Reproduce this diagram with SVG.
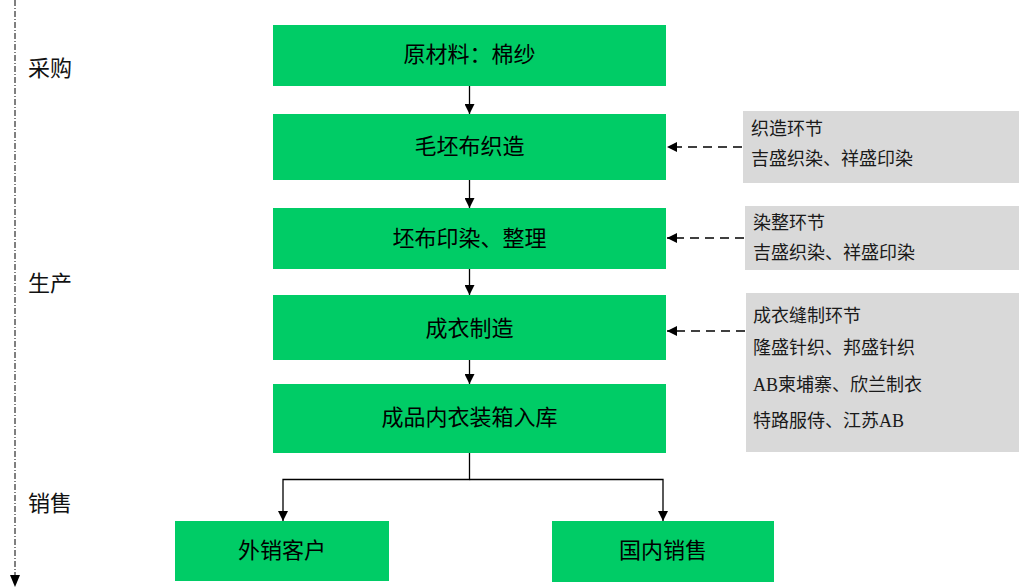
<svg xmlns="http://www.w3.org/2000/svg" width="1019" height="587" viewBox="0 0 1019 587">
  <style>
    .step { fill: #00cc66; }
    .note { fill: #d9d9d9; }
    .t { font-family: "Liberation Serif", "Noto Sans CJK SC", serif; fill: #000; }
    .main { font-size: 22px; text-anchor: middle; dominant-baseline: central; }
    .side { font-size: 18px; fill: #1a1a1a; dominant-baseline: central; }
    .phase { font-size: 22px; fill: #111; dominant-baseline: central; }
    .flow { stroke: #000; stroke-width: 1.3; fill: none; }
    .dash { stroke: #000; stroke-width: 1.4; fill: none; stroke-dasharray: 9 6; }
  </style>
  <defs>
    <marker id="arr" viewBox="0 0 10 10" refX="10" refY="5" markerWidth="10" markerHeight="10" markerUnits="userSpaceOnUse" orient="auto">
      <path d="M0,0 L10,5 L0,10 z" fill="#000"/>
    </marker>
  </defs>

  <!-- phase axis -->
  <g id="axis">
    <line x1="15" y1="0" x2="15" y2="576" stroke="#000" stroke-width="1" stroke-dasharray="6 2 1 2"/>
    <path d="M10,575 L20,575 L15,587 z" fill="#000"/>
    <text class="t phase" x="28" y="68">采购</text>
    <text class="t phase" x="28" y="283">生产</text>
    <text class="t phase" x="28" y="503">销售</text>
  </g>

  <g id="connectors">
    <line class="flow" x1="469.5" y1="86" x2="469.5" y2="114" marker-end="url(#arr)"/>
    <line class="flow" x1="469.5" y1="180" x2="469.5" y2="208" marker-end="url(#arr)"/>
    <line class="flow" x1="469.5" y1="269" x2="469.5" y2="295" marker-end="url(#arr)"/>
    <line class="flow" x1="469.5" y1="360" x2="469.5" y2="384" marker-end="url(#arr)"/>
    <path class="flow" d="M469.5,453 V479.5 H283 V521" marker-end="url(#arr)"/>
    <path class="flow" d="M469.5,479.5 H663 V521" marker-end="url(#arr)"/>
    <line class="dash" x1="742" y1="147" x2="667" y2="147" marker-end="url(#arr)"/>
    <line class="dash" x1="744" y1="238" x2="667" y2="238" marker-end="url(#arr)"/>
    <line class="dash" x1="745" y1="331" x2="667" y2="331" marker-end="url(#arr)"/>
  </g>

  <g id="n-material">
    <rect class="step" x="273" y="25" width="393" height="61"/>
    <text class="t main" x="469.5" y="54">原材料：棉纱</text>
  </g>
  <g id="n-weaving">
    <rect class="step" x="273" y="114" width="393" height="66"/>
    <text class="t main" x="469.5" y="146">毛坯布织造</text>
  </g>
  <g id="n-dyeing">
    <rect class="step" x="273" y="208" width="393" height="61"/>
    <text class="t main" x="469.5" y="238">坯布印染、整理</text>
  </g>
  <g id="n-sewing">
    <rect class="step" x="273" y="295" width="393" height="65"/>
    <text class="t main" x="469.5" y="328">成衣制造</text>
  </g>
  <g id="n-packing">
    <rect class="step" x="273" y="384" width="393" height="69"/>
    <text class="t main" x="469.5" y="417">成品内衣装箱入库</text>
  </g>
  <g id="n-export">
    <rect class="step" x="175" y="521" width="214" height="60"/>
    <text class="t main" x="282" y="550">外销客户</text>
  </g>
  <g id="n-domestic">
    <rect class="step" x="552" y="521" width="222" height="61"/>
    <text class="t main" x="663" y="550">国内销售</text>
  </g>

  <g id="note-weaving">
    <rect class="note" x="743" y="111" width="276" height="72"/>
    <text class="t side" x="751" y="129">织造环节</text>
    <text class="t side" x="751" y="159">吉盛织染、祥盛印染</text>
  </g>
  <g id="note-dyeing">
    <rect class="note" x="745" y="206" width="274" height="64"/>
    <text class="t side" x="753" y="223">染整环节</text>
    <text class="t side" x="753" y="253">吉盛织染、祥盛印染</text>
  </g>
  <g id="note-sewing">
    <rect class="note" x="746" y="293" width="273" height="159"/>
    <text class="t side" x="753" y="316">成衣缝制环节</text>
    <text class="t side" x="753" y="348">隆盛针织、邦盛针织</text>
    <text class="t side" x="753" y="385">AB柬埔寨、欣兰制衣</text>
    <text class="t side" x="753" y="421">特路服侍、江苏AB</text>
  </g>
</svg>
